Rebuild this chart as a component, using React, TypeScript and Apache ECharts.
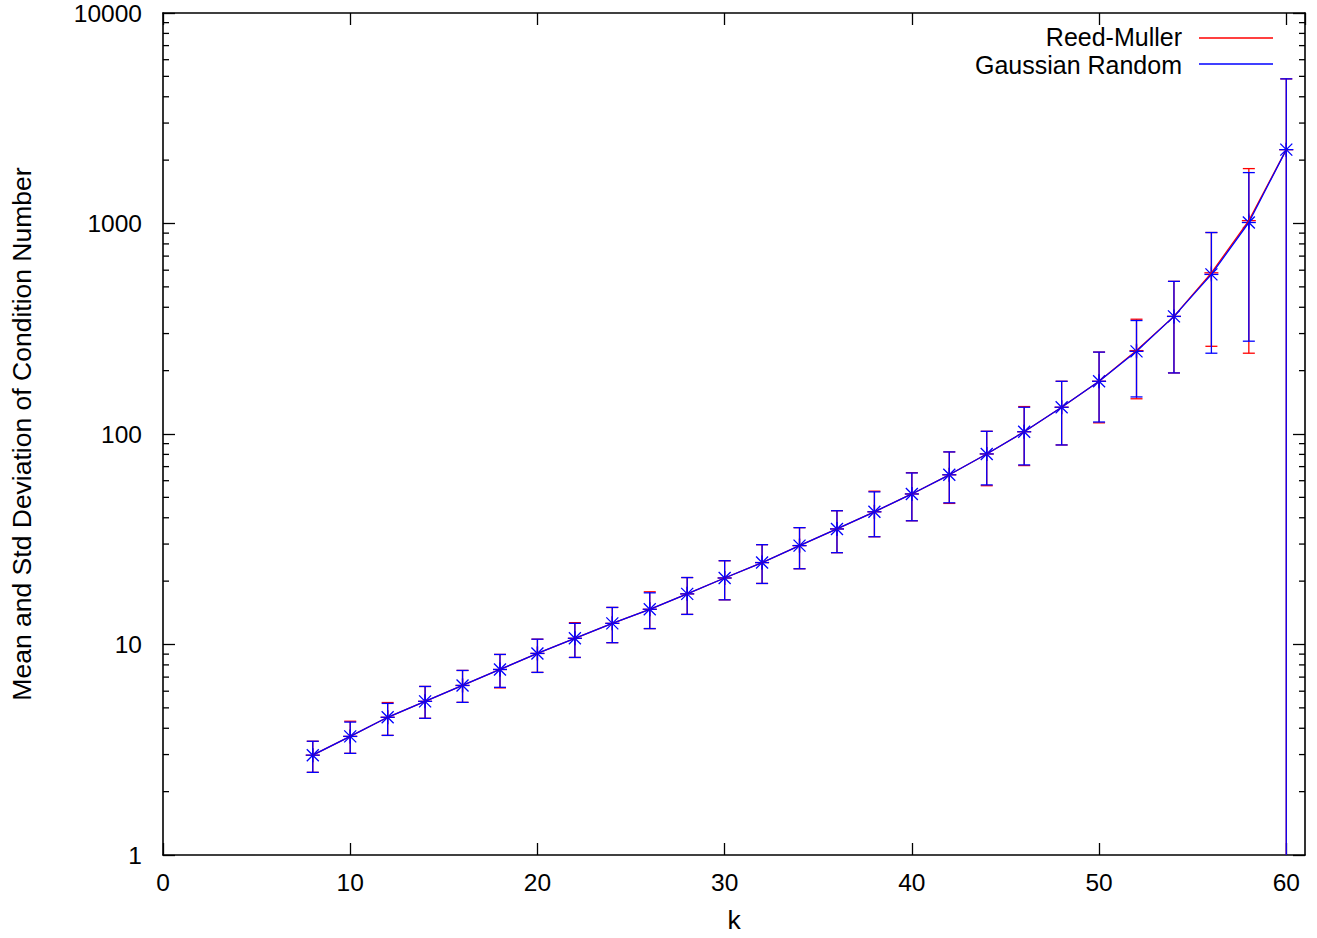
import React, { useEffect, useRef } from "react";
import * as echarts from "echarts";

// k values (x axis)
const kValues = [8, 10, 12, 14, 16, 18, 20, 22, 24, 26, 28, 30, 32, 34, 36, 38, 40, 42, 44, 46, 48, 50, 52, 54, 56, 58, 60];

// Reed-Muller: mean, lower and upper end of error bar (mean ± std)
const rmMean = [2.98, 3.66, 4.51, 5.37, 6.39, 7.61, 9.07, 10.7, 12.6, 14.7, 17.4, 20.7, 24.5, 29.5, 35.4, 42.7, 51.9, 64.0, 80.4, 102.5, 134, 178, 249, 362, 583, 1032, 2243];
const rmLow = [2.47, 3.04, 3.7, 4.46, 5.31, 6.22, 7.37, 8.68, 10.2, 11.9, 13.9, 16.3, 19.5, 22.9, 27.3, 32.5, 38.7, 46.8, 56.8, 70.8, 88.7, 113, 147, 195, 261, 242, -380];
const rmHigh = [3.47, 4.32, 5.3, 6.32, 7.53, 8.97, 10.6, 12.7, 15.0, 17.8, 20.8, 25.0, 29.8, 35.9, 43.2, 53.5, 65.5, 82.2, 103, 135, 178, 245, 351, 531, 906, 1823, 4865];

// Gaussian Random: mean, lower and upper end of error bar
const grMean = [2.98, 3.66, 4.51, 5.37, 6.39, 7.61, 9.07, 10.7, 12.6, 14.7, 17.4, 20.7, 24.5, 29.5, 35.4, 42.7, 51.9, 64.0, 80.4, 102.5, 134, 178, 247, 362, 573, 1011, 2243];
const grLow = [2.47, 3.04, 3.7, 4.46, 5.31, 6.26, 7.37, 8.68, 10.2, 11.9, 13.9, 16.3, 19.5, 22.9, 27.3, 32.5, 38.7, 47.1, 57.3, 71.3, 88.7, 114, 150, 195, 242, 276, -380];
const grHigh = [3.47, 4.28, 5.25, 6.32, 7.53, 8.97, 10.6, 12.6, 15.0, 17.6, 20.8, 25.0, 29.8, 35.9, 43.2, 53.1, 65.3, 82.2, 103, 134, 178, 245, 346, 531, 906, 1745, 4865];

// Axis settings
const xMin = 0;
const xMax = 61;
const xInterval = 10;
const yMin = 1;
const yMax = 10000;
const yDecades = [1, 10, 100, 1000];
const yMinorMultipliers = [2, 3, 4, 5, 6, 7, 8, 9];
const yMinorTicks = yDecades.flatMap((d) => yMinorMultipliers.map((m) => d * m));

const seriesNames = ["Reed-Muller", "Gaussian Random"];
const RED = "#ff0000";
const BLUE = "#0000ff";
const FONT = '"Liberation Sans", Arial, Helvetica, sans-serif';

function makeBarData(mean: number[], low: number[], high: number[]) {
  return kValues.map((k, i) => [k, low[i], high[i], mean[i]]);
}

function errorBarRenderer(color: string, marker: "plus" | "star") {
  return (params: any, api: any) => {
    const x = api.value(0);
    const lo = api.value(1);
    const hi = api.value(2);
    const m = api.value(3);
    const cs = params.coordSys;
    const bottom = cs.y + cs.height;
    const top = cs.y;
    const pHi = api.coord([x, hi]);
    const px = pHi[0];
    let yHi = pHi[1];
    let hiClipped = false;
    if (yHi < top) {
      yHi = top;
      hiClipped = true;
    }
    let yLo = lo > 0 ? api.coord([x, lo])[1] : NaN;
    let loClipped = false;
    if (!(lo > 0) || yLo > bottom) {
      yLo = bottom;
      loClipped = true;
    }
    const pm = api.coord([x, m]);
    const cap = 6;
    const style = { stroke: color, lineWidth: 1.3 };
    const children: any[] = [
      { type: "line", shape: { x1: px, y1: yLo, x2: px, y2: yHi }, style },
    ];
    if (!hiClipped) {
      children.push({ type: "line", shape: { x1: px - cap, y1: yHi, x2: px + cap, y2: yHi }, style });
    }
    if (!loClipped) {
      children.push({ type: "line", shape: { x1: px - cap, y1: yLo, x2: px + cap, y2: yLo }, style });
    }
    const r = 7;
    const cx = pm[0];
    const cy = pm[1];
    children.push({ type: "line", shape: { x1: cx - r, y1: cy, x2: cx + r, y2: cy }, style });
    children.push({ type: "line", shape: { x1: cx, y1: cy - r, x2: cx, y2: cy + r }, style });
    if (marker === "star") {
      const d = 6;
      children.push({ type: "line", shape: { x1: cx - d, y1: cy - d, x2: cx + d, y2: cy + d }, style });
      children.push({ type: "line", shape: { x1: cx - d, y1: cy + d, x2: cx + d, y2: cy - d }, style });
    }
    return { type: "group", children };
  };
}

function minorTickRenderer(params: any, api: any) {
  const cs = params.coordSys;
  const v = api.value(1);
  const y = api.coord([0, v])[1];
  const len = 6;
  const style = { stroke: "#000", lineWidth: 1.3 };
  return {
    type: "group",
    children: [
      { type: "line", shape: { x1: cs.x, y1: y, x2: cs.x + len, y2: y }, style },
      { type: "line", shape: { x1: cs.x + cs.width - len, y1: y, x2: cs.x + cs.width, y2: y }, style },
    ],
  };
}

export default function App() {
  const ref = useRef<HTMLDivElement>(null);

  useEffect(() => {
    document.body.style.margin = "0";
    if (!ref.current) return;
    const chart = echarts.init(ref.current, undefined, { renderer: "svg" });

    const axisLine = { show: true, onZero: false, lineStyle: { color: "#000", width: 1.6 } };
    const axisTick = { show: true, inside: true, length: 12, lineStyle: { color: "#000", width: 1.3 } };

    const legendText = (text: string, y: number) => ({
      type: "text",
      x: 1182,
      y,
      style: {
        text,
        align: "right",
        verticalAlign: "middle",
        textAlign: "right",
        textVerticalAlign: "middle",
        fontSize: 25,
        lineHeight: 24,
        fontFamily: FONT,
        fill: "#000",
      },
    });

    const option: any = {
      animation: false,
      backgroundColor: "#fff",
      grid: { left: 160, right: 12, top: 13, bottom: 81, containLabel: false },
      xAxis: [
        {
          type: "value",
          position: "bottom",
          min: xMin,
          max: xMax,
          interval: xInterval,
          name: "k",
          nameLocation: "middle",
          nameGap: 51,
          nameTextStyle: { color: "#000", fontSize: 26.5, fontFamily: FONT },
          axisLine,
          axisTick,
          axisLabel: {
            color: "#000",
            fontSize: 24.5,
            fontFamily: FONT,
            margin: 15,
            showMaxLabel: false,
          },
          splitLine: { show: false },
        },
        {
          type: "value",
          position: "top",
          min: xMin,
          max: xMax,
          interval: xInterval,
          axisLine,
          axisTick,
          axisLabel: { show: false },
          splitLine: { show: false },
        },
      ],
      yAxis: [
        {
          type: "log",
          logBase: 10,
          position: "left",
          min: yMin,
          max: yMax,
          name: "Mean and Std Deviation of Condition Number",
          nameLocation: "middle",
          nameRotate: 90,
          nameGap: 128,
          nameTextStyle: { color: "#000", fontSize: 26.5, fontFamily: FONT },
          axisLine,
          axisTick,
          axisLabel: {
            color: "#000",
            fontSize: 24.5,
            fontFamily: FONT,
            margin: 21,
            formatter: (v: number) => String(Math.round(v)),
          },
          splitLine: { show: false },
        },
        {
          type: "log",
          logBase: 10,
          position: "right",
          min: yMin,
          max: yMax,
          axisLine,
          axisTick,
          axisLabel: { show: false },
          splitLine: { show: false },
        },
      ],
      graphic: [
        legendText(seriesNames[0], 37),
        {
          type: "line",
          shape: { x1: 1199, y1: 38, x2: 1273, y2: 38 },
          style: { stroke: RED, lineWidth: 1.3 },
        },
        legendText(seriesNames[1], 65),
        {
          type: "line",
          shape: { x1: 1199, y1: 64, x2: 1273, y2: 64 },
          style: { stroke: BLUE, lineWidth: 1.3 },
        },
      ],
      series: [
        {
          type: "custom",
          name: "minorTicks",
          xAxisIndex: 0,
          yAxisIndex: 0,
          silent: true,
          renderItem: minorTickRenderer,
          encode: { x: 0, y: 1 },
          data: yMinorTicks.map((v) => [0, v]),
        },
        {
          type: "line",
          name: seriesNames[0],
          xAxisIndex: 0,
          yAxisIndex: 0,
          showSymbol: false,
          symbol: "none",
          lineStyle: { color: RED, width: 1.3 },
          itemStyle: { color: RED },
          data: kValues.map((k, i) => [k, rmMean[i]]),
        },
        {
          type: "custom",
          name: seriesNames[0] + " bars",
          xAxisIndex: 0,
          yAxisIndex: 0,
          renderItem: errorBarRenderer(RED, "plus"),
          encode: { x: 0, y: 3 },
          data: makeBarData(rmMean, rmLow, rmHigh),
        },
        {
          type: "line",
          name: seriesNames[1],
          xAxisIndex: 0,
          yAxisIndex: 0,
          showSymbol: false,
          symbol: "none",
          lineStyle: { color: BLUE, width: 1.3 },
          itemStyle: { color: BLUE },
          data: kValues.map((k, i) => [k, grMean[i]]),
        },
        {
          type: "custom",
          name: seriesNames[1] + " bars",
          xAxisIndex: 0,
          yAxisIndex: 0,
          renderItem: errorBarRenderer(BLUE, "star"),
          encode: { x: 0, y: 3 },
          data: makeBarData(grMean, grLow, grHigh),
        },
      ],
    };

    chart.setOption(option);
    return () => {
      chart.dispose();
    };
  }, []);

  return <div ref={ref} style={{ width: 1317, height: 938 }} />;
}
